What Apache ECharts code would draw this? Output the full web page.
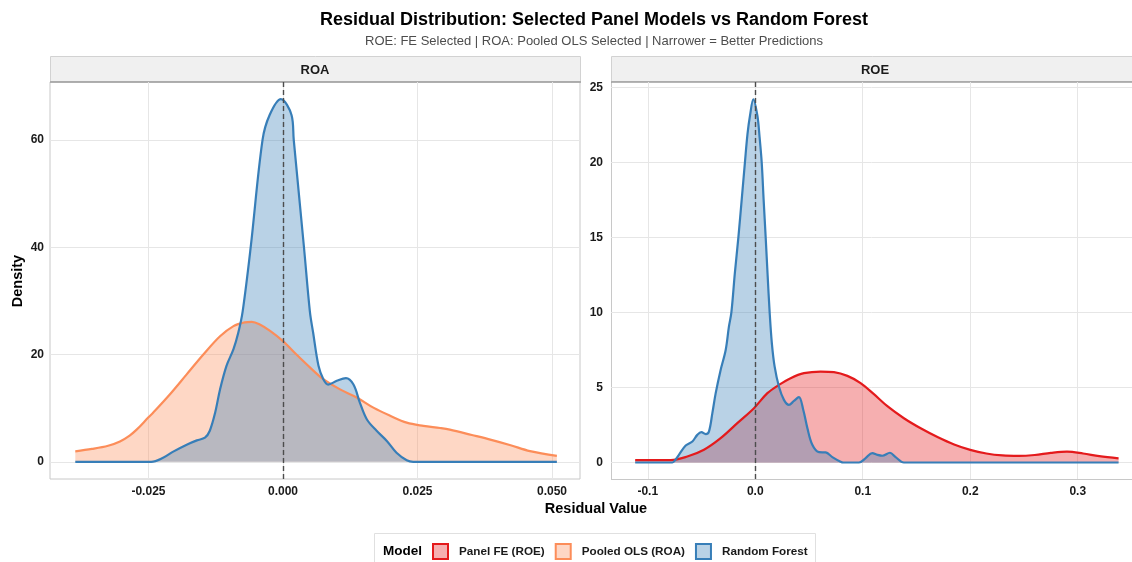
<!DOCTYPE html>
<html><head><meta charset="utf-8">
<script src="https://cdn.jsdelivr.net/npm/echarts@6/dist/echarts.min.js"></script>
<style>html,body{margin:0;padding:0;background:#fff}#c{width:1132px;height:562px}</style>
</head><body><div id="c"></div>
<script>
// ROA panel: [residual, density]
const roaOLS = [[-0.0386,1.95],[-0.0355,2.4],[-0.0325,3.0],[-0.0303,3.8],[-0.0285,4.9],[-0.0272,6.0],[-0.025,8.3],[-0.0241,9.2],[-0.021,12.6],[-0.0179,16.3],[-0.0148,20.0],[-0.0117,23.4],[-0.0092,25.3],[-0.0071,26.0],[-0.0058,26.1],[-0.0043,25.6],[-0.0024,24.4],[0,22.5],[0.0025,20.0],[0.005,17.6],[0.0075,15.4],[0.0106,13.5],[0.0137,12.0],[0.0168,10.1],[0.0199,8.6],[0.023,7.3],[0.0261,6.7],[0.0292,6.3],[0.031,6.0],[0.0351,5.0],[0.0387,4.1],[0.0423,3.1],[0.0459,2.0],[0.0509,1.1]];
const roaRF = [[-0.0386,0],[-0.0245,0],[-0.0222,0.8],[-0.0204,1.9],[-0.0179,3.2],[-0.016,4.0],[-0.0145,4.5],[-0.0136,5.8],[-0.0126,9.2],[-0.0117,13.5],[-0.0105,17.9],[-0.0092,21.0],[-0.0083,24.1],[-0.0075,28.0],[-0.006,40],[-0.0038,60],[-0.0025,64.6],[-0.0004,67.6],[0.0016,64.6],[0.002,60],[0.0039,40],[0.005,28],[0.0056,24.1],[0.0066,17.9],[0.0075,15.4],[0.0084,14.4],[0.01,15.1],[0.0117,15.6],[0.0131,14.4],[0.0143,11.0],[0.0156,7.9],[0.0174,5.8],[0.0193,3.9],[0.0211,1.7],[0.023,0.3],[0.0242,0],[0.0509,0]];
// ROE panel
const roeFE = [[-0.1117,0.16],[-0.0787,0.16],[-0.0632,0.4],[-0.0477,0.85],[-0.0322,1.62],[-0.0167,2.62],[-0.0012,3.62],[0.0113,4.62],[0.022,5.17],[0.0329,5.62],[0.0453,5.95],[0.0608,6.06],[0.0732,6.02],[0.0857,5.77],[0.098,5.29],[0.1104,4.55],[0.1229,3.75],[0.1383,2.95],[0.1539,2.28],[0.17,1.68],[0.185,1.2],[0.2,0.84],[0.215,0.6],[0.23,0.47],[0.245,0.44],[0.26,0.5],[0.275,0.64],[0.29,0.72],[0.305,0.6],[0.32,0.42],[0.338,0.27]];
const roeRF = [[-0.1117,0],[-0.0771,0],[-0.074,0.2],[-0.071,0.51],[-0.0647,1.13],[-0.0585,1.4],[-0.0539,1.84],[-0.0501,2.02],[-0.0461,1.89],[-0.0431,2.06],[-0.0399,3.29],[-0.0368,4.62],[-0.0322,6.17],[-0.0275,7.5],[-0.0245,9.05],[-0.0222,10.0],[-0.019,12.6],[-0.0157,15.0],[-0.0125,17.6],[-0.0096,20.0],[-0.0072,21.9],[-0.0049,23.1],[-0.0018,24.2],[0.002,23.1],[0.004,21.7],[0.006,20.0],[0.0078,17.5],[0.0097,15.0],[0.0115,12.5],[0.0134,10.0],[0.0155,7.9],[0.018,6.4],[0.022,5.06],[0.0267,4.17],[0.0313,3.84],[0.036,4.1],[0.0406,4.35],[0.0447,3.5],[0.0485,2.29],[0.0531,1.18],[0.0593,0.69],[0.0655,0.67],[0.0717,0.36],[0.0794,0.05],[0.082,0],[0.0965,0],[0.1027,0.29],[0.1089,0.63],[0.1136,0.51],[0.1182,0.45],[0.1253,0.65],[0.1306,0.36],[0.1383,0],[0.338,0]];

const roaXTicks = [-0.025, 0, 0.025, 0.05];
const roeXTicks = [-0.1, 0, 0.1, 0.2, 0.3];
const roaYTicks = [0, 20, 40, 60];
const roeYTicks = [0, 5, 10, 15, 20, 25];
const modelNames = ['Panel FE (ROE)', 'Pooled OLS (ROA)', 'Random Forest'];
const lineColors = ['#e41a1c', '#fc8d59', '#377eb8'];
const fillColors = ['rgba(228,26,28,0.35)', 'rgba(252,141,89,0.35)', 'rgba(55,126,184,0.35)'];

const FONT = 'Liberation Sans, Arial, sans-serif';
const chart = echarts.init(document.getElementById('c'), null, {renderer: 'canvas'});

function xAxisCfg(idx, min, max, ticks, dec) {
  return {
    type: 'value', gridIndex: idx, min: min, max: max,
    axisLine: {show: false},
    axisTick: {show: false, customValues: ticks},
    axisLabel: {customValues: ticks, formatter: v => v.toFixed(dec), margin: 7,
      fontFamily: FONT, fontSize: 12, fontWeight: 'bold', color: '#1a1a1a'},
    splitLine: {show: true, lineStyle: {color: '#e6e6e6', width: 1}}
  };
}
function yAxisCfg(idx, min, max, ticks, margin) {
  return {
    type: 'value', gridIndex: idx, min: min, max: max,
    axisLine: {show: false},
    axisTick: {show: false, customValues: ticks},
    axisLabel: {customValues: ticks, margin: margin,
      fontFamily: FONT, fontSize: 12, fontWeight: 'bold', color: '#1a1a1a'},
    splitLine: {show: true, lineStyle: {color: '#e6e6e6', width: 1}}
  };
}
function densitySeries(nameIdx, axisIdx, data, withZero) {
  const s = {
    name: modelNames[nameIdx], type: 'line', xAxisIndex: axisIdx, yAxisIndex: axisIdx,
    data: data, smooth: 0.35, symbol: 'none', silent: true,
    lineStyle: {color: lineColors[nameIdx], width: 2.2},
    itemStyle: {color: lineColors[nameIdx]},
    areaStyle: {color: fillColors[nameIdx], opacity: 1}
  };
  if (withZero) {
    s.markLine = {silent: true, symbol: ['none', 'none'], label: {show: false},
      lineStyle: {type: [5, 3], color: '#4d4d4d', width: 1.4},
      data: [{xAxis: 0}]};
  }
  return s;
}

const option = {
  animation: false,
  backgroundColor: '#ffffff',
  grid: [
    {left: 50, top: 82, width: 530, height: 397, show: true, borderColor: '#c8c8c8', borderWidth: 1, backgroundColor: 'transparent'},
    {left: 611, top: 82, width: 521, height: 397, show: false}
  ],
  xAxis: [xAxisCfg(0, -0.0433, 0.0552, roaXTicks, 3), xAxisCfg(1, -0.1342, 0.3505, roeXTicks, 1)],
  yAxis: [yAxisCfg(0, -3.2, 70.8, roaYTicks, 6), yAxisCfg(1, -1.1, 25.35, roeYTicks, 8)],
  legend: {
    left: 432, top: 543, itemWidth: 15, itemHeight: 15, itemGap: 10, icon: 'rect',
    selectedMode: false, padding: 0,
    textStyle: {fontFamily: FONT, fontSize: 11.7, fontWeight: 'bold', color: '#1a1a1a', padding: [0, 0, 0, 6]},
    data: modelNames.map((n, i) => ({name: n, itemStyle: {color: fillColors[i], borderColor: lineColors[i], borderWidth: 2}}))
  },
  graphic: [
    {type: 'text', x: 594, y: 20, style: {text: 'Residual Distribution: Selected Panel Models vs Random Forest', fontFamily: FONT, fontSize: 18, fontWeight: 'bold', fill: '#000', align: 'center', verticalAlign: 'middle'}},
    {type: 'text', x: 594, y: 41, style: {text: 'ROE: FE Selected | ROA: Pooled OLS Selected | Narrower = Better Predictions', fontFamily: FONT, fontSize: 13, fill: '#4d4d4d', align: 'center', verticalAlign: 'middle'}},
    {type: 'rect', shape: {x: 50.5, y: 56.5, width: 530, height: 25}, style: {fill: '#f0f0f0', stroke: '#d2d2d2', lineWidth: 1}},
    {type: 'rect', shape: {x: 611.5, y: 56.5, width: 540, height: 25}, style: {fill: '#f0f0f0', stroke: '#d2d2d2', lineWidth: 1}},
    {type: 'line', shape: {x1: 611.5, y1: 82, x2: 611.5, y2: 479.5}, style: {stroke: '#c8c8c8', lineWidth: 1}},
    {type: 'line', shape: {x1: 611, y1: 479.5, x2: 1140, y2: 479.5}, style: {stroke: '#c8c8c8', lineWidth: 1}},
    {type: 'line', shape: {x1: 50, y1: 82, x2: 581, y2: 82}, style: {stroke: '#9e9e9e', lineWidth: 1.5}},
    {type: 'line', shape: {x1: 611, y1: 82, x2: 1140, y2: 82}, style: {stroke: '#9e9e9e', lineWidth: 1.5}},
    {type: 'text', x: 315, y: 70, style: {text: 'ROA', fontFamily: FONT, fontSize: 13, fontWeight: 'bold', fill: '#1a1a1a', align: 'center', verticalAlign: 'middle'}},
    {type: 'text', x: 875, y: 70, style: {text: 'ROE', fontFamily: FONT, fontSize: 13, fontWeight: 'bold', fill: '#1a1a1a', align: 'center', verticalAlign: 'middle'}},
    {type: 'text', x: 18, y: 281, rotation: Math.PI / 2, style: {text: 'Density', fontFamily: FONT, fontSize: 14.5, fontWeight: 'bold', fill: '#000', align: 'center', verticalAlign: 'middle'}},
    {type: 'text', x: 596, y: 509, style: {text: 'Residual Value', fontFamily: FONT, fontSize: 14.5, fontWeight: 'bold', fill: '#000', align: 'center', verticalAlign: 'middle'}},
    {type: 'rect', shape: {x: 374.5, y: 533.5, width: 441, height: 40}, style: {fill: 'none', stroke: '#e0e0e0', lineWidth: 1}},
    {type: 'text', x: 383, y: 551, style: {text: 'Model', fontFamily: FONT, fontSize: 13.5, fontWeight: 'bold', fill: '#000', align: 'left', verticalAlign: 'middle'}}
  ],
  series: [
    densitySeries(1, 0, roaOLS, false),
    densitySeries(2, 0, roaRF, true),
    densitySeries(0, 1, roeFE, false),
    densitySeries(2, 1, roeRF, true)
  ]
};
chart.setOption(option);
</script>
</body></html>
